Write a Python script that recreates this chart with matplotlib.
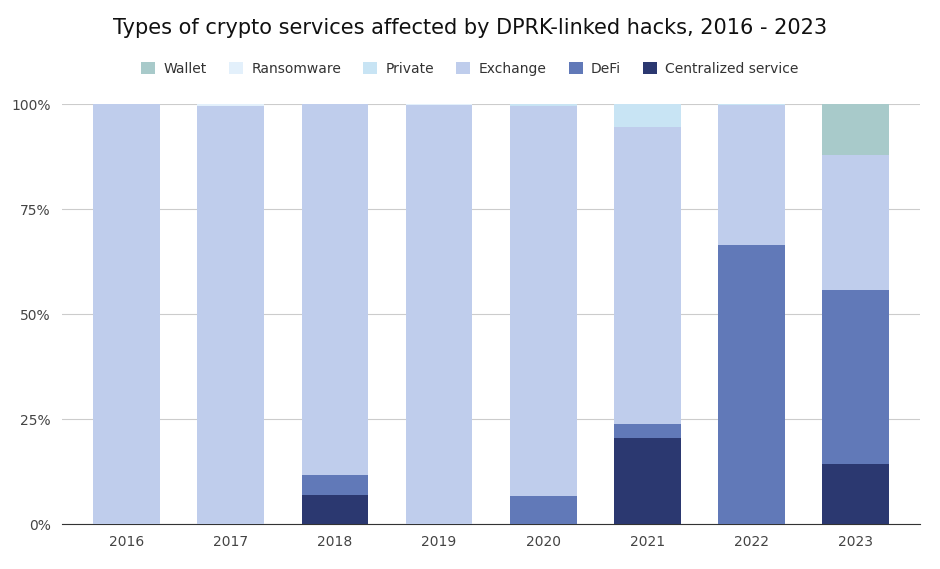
import matplotlib
matplotlib.use("Agg")
import matplotlib.pyplot as plt
from matplotlib.ticker import FuncFormatter

years = ["2016","2017","2018","2019","2020","2021","2022","2023"]
centralized = [0, 0, 6.9, 0, 0, 20.5, 0, 14.3]
defi        = [0, 0, 4.8, 0, 6.7, 3.3, 66.4, 41.4]
exchange    = [100, 99.5, 88.3, 99.8, 92.8, 70.7, 33.3, 32.2]
private     = [0, 0, 0, 0, 0.5, 5.5, 0.3, 0]
ransomware  = [0, 0.5, 0, 0.2, 0, 0, 0, 0]
wallet      = [0, 0, 0, 0, 0, 0, 0, 12.1]

series = [("Centralized service", centralized, "#2b3870"),
          ("DeFi", defi, "#6179b8"),
          ("Exchange", exchange, "#bfcdec"),
          ("Private", private, "#c8e4f4"),
          ("Ransomware", ransomware, "#e3f0fb"),
          ("Wallet", wallet, "#a8caca")]

fig = plt.figure(figsize=(9.4, 5.69), dpi=100)
ax = fig.add_axes([0.066, 0.079, 0.913, 0.738])
x = range(len(years))
bottom = [0]*len(years)
handles = {}
for name, vals, col in series:
    h = ax.bar(x, vals, bottom=bottom, width=0.64, color=col, label=name, zorder=3)
    handles[name] = h
    bottom = [b+v for b, v in zip(bottom, vals)]

ax.set_ylim(0, 100)
ax.set_xlim(-0.62, 7.62)
ax.set_yticks([0, 25, 50, 75, 100])
ax.yaxis.set_major_formatter(FuncFormatter(lambda v, p: f"{int(v)}%"))
ax.set_xticks(list(x))
ax.set_xticklabels(years)
ax.grid(axis="y", color="#cccccc", linewidth=0.8, zorder=0)
for s in ["top", "right", "left"]:
    ax.spines[s].set_visible(False)
ax.spines["bottom"].set_color("#333333")
ax.tick_params(length=0, labelsize=10, colors="#444444", pad=8)

order = ["Wallet", "Ransomware", "Private", "Exchange", "DeFi", "Centralized service"]
fig.legend([handles[n] for n in order], order, loc="center", bbox_to_anchor=(0.5, 0.879),
           ncol=6, frameon=False, fontsize=10, handlelength=1.0, handleheight=1.0,
           columnspacing=1.6, handletextpad=0.6, labelcolor="#333333")
fig.text(0.5, 0.95, "Types of crypto services affected by DPRK-linked hacks, 2016 - 2023",
         ha="center", va="center", fontsize=15, color="#111111")
fig.savefig("out.png", dpi=100, facecolor="white")
